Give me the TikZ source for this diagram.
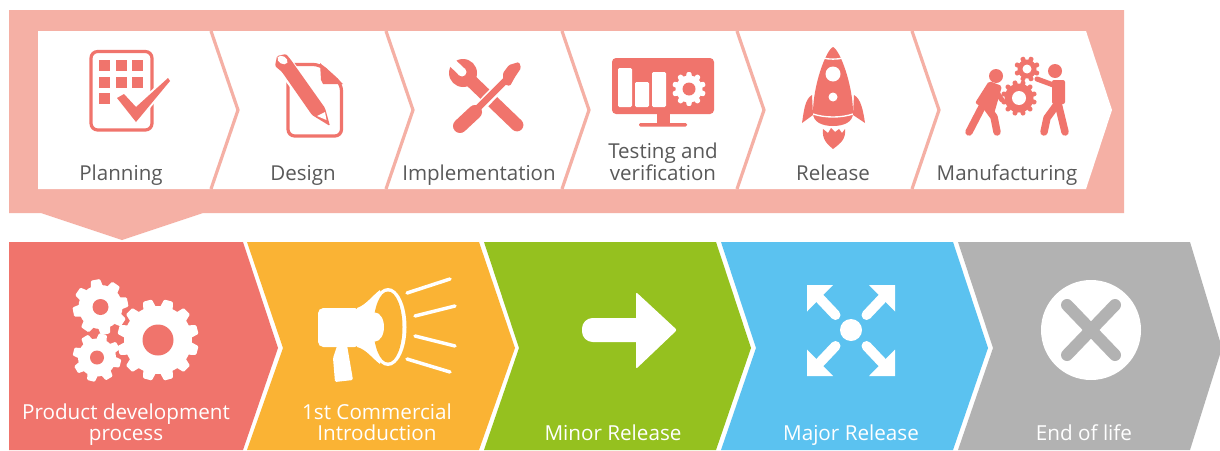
\documentclass[tikz,border=0pt]{standalone}
\usepackage{fontspec}
\setmainfont{Open Sans}
\definecolor{band}{HTML}{F5B0A5}
\definecolor{coral}{HTML}{F0746C}
\definecolor{amber}{HTML}{FAB334}
\definecolor{leaf}{HTML}{95C11F}
\definecolor{sky}{HTML}{5BC2F0}
\definecolor{stone}{HTML}{B2B2B2}
\definecolor{ink}{HTML}{595959}
\def\gearrot{0}
\newcommand\gearicon[8]{% cx cy Rout Rin n hole col holecol
  \fill[#7] (#1,#2) circle[radius=#4];
  \foreach \i in {1,...,#5}{
    \pgfmathsetmacro\ang{\gearrot+(\i-0.5)*360/#5}
    \pgfmathsetmacro\wa{360/#5*0.38}
    \pgfmathsetmacro\wb{360/#5*0.21}
    \fill[#7,rounded corners=0.8pt]
      ({#1+(#4-1)*cos(\ang-\wa)},{#2+(#4-1)*sin(\ang-\wa)}) --
      ({#1+#3*cos(\ang-\wb)},{#2+#3*sin(\ang-\wb)}) --
      ({#1+#3*cos(\ang+\wb)},{#2+#3*sin(\ang+\wb)}) --
      ({#1+(#4-1)*cos(\ang+\wa)},{#2+(#4-1)*sin(\ang+\wa)}) -- cycle;
  }
  \fill[#8] (#1,#2) circle[radius=#6];
}
\tikzset{
  x=0.75pt,y=-0.75pt,
  toplabel/.style={text=ink,font=\fontsize{15.4}{16.2}\selectfont,align=center,anchor=base,inner sep=0pt},
  botlabel/.style={text=white,font=\fontsize{15.5}{15.2}\selectfont,align=center,anchor=base,inner sep=0pt},
  divider/.style={draw=band,line width=2.4pt,line join=miter},
  limb/.style={draw=coral,line width=5.6pt,line cap=round,line join=round},
  ray/.style={draw=white,line width=2.6pt,line cap=round},
}
\begin{document}
\begin{tikzpicture}
\useasboundingbox (0,0) rectangle (1220,450);
\fill[white] (0,0) rectangle (1220,450);
% upper band
\fill[band] (9,10) -- (1124,10) -- (1124,213) -- (203,213) -- (122,240) -- (41,213) -- (9,213) -- cycle;
\fill[white] (38,31) -- (1086,31) -- (1112,110) -- (1086,189) -- (38,189) -- cycle;
\draw[divider] (211,31) -- (238,110) -- (211,189);
\draw[divider] (386,31) -- (413,110) -- (386,189);
\draw[divider] (562,31) -- (589,110) -- (562,189);
\draw[divider] (737,31) -- (764,110) -- (737,189);
\draw[divider] (912,31) -- (939,110) -- (912,189);
% lower chevrons
\fill[coral] (9,242) -- (243,242) -- (278,348) -- (243,450) -- (9,450) -- cycle;
\fill[amber] (247,242) -- (479,242) -- (515,348) -- (479,450) -- (247,450) -- (283,348) -- cycle;
\fill[leaf] (484,242) -- (716,242) -- (751,348) -- (716,450) -- (484,450) -- (519,348) -- cycle;
\fill[sky] (721,242) -- (953,242) -- (988,348) -- (953,450) -- (721,450) -- (756,348) -- cycle;
\fill[stone] (958,242) -- (1190,242) -- (1222,348) -- (1190,450) -- (958,450) -- (993,348) -- cycle;
% planning icon
\draw[draw=coral,line width=2.4pt,rounded corners=5pt] (91,51.5) rectangle (152,130);
\foreach \px/\py in {99/60,116/60,132/60,99/77,116/77,132/77,99/93}
  \fill[coral] (\px,\py) rectangle ++(11,11);
\draw[white,line width=3pt,line join=round] (117,98) -- (124,94) -- (136,107) -- (168,78) -- (170,81) -- (136,122) -- cycle;
\fill[coral] (117,98) -- (124,94) -- (136,107) -- (168,78) -- (170,81) -- (136,122) -- cycle;
% design icon
\draw[draw=coral,line width=2.4pt,rounded corners=5pt,fill=white] (288,64.5) -- (320,64.5) -- (341.5,84) -- (341.5,136) -- (288,136) -- cycle;
\fill[coral] (320,63) -- (343,84) -- (323,84) -- (321,80) -- cycle;
\draw[white,line width=2.4pt,line join=round] (276,66) -- (313,115) -- (330,125) -- (325,108) -- (288,57) -- cycle;
\fill[coral,rounded corners=1pt] (275,66) -- (282,72) -- (312,115) -- (330,126) -- (325,108) -- (291,60) -- (286,54) -- (277,56) -- cycle;
\fill[white] (282.5,60) ellipse[x radius=5.5,y radius=3.8,rotate=-30];
\fill[white] (317,116) -- (325,112) -- (326.5,120) -- cycle;
% tools icon
\draw[coral,line width=9.6pt,line cap=round] (466,76) -- (517,125);
\fill[coral] (463,73) circle[radius=14];
\fill[white] (454,58.5) -- (465,69) -- (459,75) -- (448,64.5) -- cycle;
\fill[white] (462,72) circle[radius=4.5];
\draw[draw=white,line width=8pt] (480,107) -- (508,78);
\draw[draw=coral,line width=5pt] (476,110) -- (508,78);
\draw[coral,line width=10.5pt,line cap=round] (460,126) -- (475,112);
\fill[coral,rounded corners=1pt] (503,84) -- (503,73) -- (509,65) -- (519,62) -- (521,68) -- (515,77) -- (510,86) -- cycle;
% monitor icon
\fill[coral,rounded corners=3pt] (612,58) rectangle (714,114);
\fill[coral] (657,113) rectangle (670,124);
\fill[coral,rounded corners=1pt] (639,123) rectangle (687,126.5);
\foreach \bx/\by in {618/68,635/82,652/72}
  \fill[white,rounded corners=1pt] (\bx,\by) rectangle (\bx+14,107);
\gearicon{689}{89}{17}{13.5}{10}{6.5}{white}{coral}
% rocket icon
\fill[coral] (833,47) .. controls (826,50) and (813,85) .. (813,113) .. controls (813,122) and (822,126) .. (833,126) .. controls (844,126) and (853,122) .. (853,113) .. controls (853,85) and (840,50) .. (833,47) -- cycle;
\draw[white,line width=1pt] (823,58) .. controls (829,59.5) and (837,59.5) .. (843,58);
\draw[white,line width=1pt] (813,114) .. controls (825,118) and (841,118) .. (853,114);
\fill[white] (833,74) circle[radius=7.5];
\fill[white] (833,97) circle[radius=4.5];
\fill[coral] (812,95) .. controls (805,99) and (804,110) .. (802,123) -- (813,115) -- cycle;
\fill[coral] (854,95) .. controls (861,99) and (863,110) .. (865,123) -- (853,115) -- cycle;
\fill[coral] (823,129) -- (828,133) -- (831,128) -- (835,132) -- (839,129) -- (842,133) -- (845,129) .. controls (846,139) and (841,143) .. (833,149) .. controls (826,143) and (822,139) .. (823,129) -- cycle;
% manufacturing icon
\fill[coral] (996,76) circle[radius=7];
\fill[coral] (1055,71) circle[radius=7];
\fill[coral,rounded corners=1.5pt] (989,81) -- (1002,86) -- (994,114) -- (975,103) -- cycle;
\draw[limb] (983,105) -- (969,132);
\draw[limb] (986,106) -- (994,117) -- (997,132);
\draw[limb,line width=3.8pt] (994,88) -- (1002,100);
\fill[coral,rounded corners=1.5pt] (1052,80) -- (1065,80) -- (1065,104) -- (1052,104) -- cycle;
\draw[limb] (1058,103) -- (1047,118) -- (1044,132);
\draw[limb] (1058,103) -- (1065,132);
\draw[limb,line width=3.8pt] (1056,86) -- (1037,79);
\gearicon{1019}{98}{18}{14.5}{12}{7}{coral}{white}
\gearicon{1027}{69}{13}{9.5}{8}{4.5}{coral}{white}
% gears
\def\gearrot{12}
\gearicon{100.5}{307}{28}{22}{8}{8}{white}{coral}
\def\gearrot{-8}
\gearicon{97}{357.5}{24.5}{19}{8}{7}{white}{coral}
\def\gearrot{0}
\fill[coral] (158,340) circle[radius=38];
\gearicon{158}{340}{41}{34}{12}{15.5}{white}{coral}
% megaphone
\fill[white,rounded corners=4pt] (318,308) -- (360,308) -- (360,347) -- (318,347) -- cycle;
\fill[white] (357,308) .. controls (366,305) and (372,296) .. (380,290) -- (380,364) .. controls (372,358) and (366,349) .. (357,347) -- cycle;
\fill[white] (388,327) ellipse[x radius=18.5,y radius=39];
\fill[amber] (388,327) ellipse[x radius=14.5,y radius=35.5];
\fill[white] (375,327) ellipse[x radius=9,y radius=14.5];
\fill[white,rounded corners=1pt] (333,358) -- (337,346) -- (347,345) -- (353,380) -- (335,382) -- cycle;
\draw[ray] (407,293) -- (450,279);
\draw[ray] (415,316) -- (455,306);
\draw[ray] (415,336) -- (455,346);
\draw[ray] (407,359) -- (450,372);
% arrow
\fill[white,rounded corners=8pt] (582,318) -- (650,318) -- (650,342) -- (582,342) -- cycle;
\fill[white,rounded corners=1.5pt] (636,292) -- (677,330) -- (636,369) -- cycle;
% expand icon
\fill[white] (851,330) circle[radius=11];
\foreach \sx/\sy in {1/1,-1/1,1/-1,-1/-1}{
  \fill[white] (851-\sx*44,330.5-\sy*45.5) -- (851-\sx*18,330.5-\sy*45.5) -- (851-\sx*44,330.5-\sy*19) -- cycle;
  \draw[white,line width=7.5pt,line cap=round] (851-\sx*33,330.5-\sy*34) -- (851-\sx*15.5,330.5-\sy*15.5);
}
% end of life
\fill[white] (1091,330) circle[radius=50];
\draw[stone,line width=9pt,line cap=round] (1067,305) -- (1115,355);
\draw[stone,line width=9pt,line cap=round] (1115,305) -- (1067,355);
% labels
\node[toplabel] (planning) at (121,180) {Planning};
\node[toplabel] (design) at (303,180) {Design};
\node[toplabel] (impl) at (479,180) {Implementation};
\node[toplabel] (testing) at (663,180) {Testing and\\verification};
\node[toplabel] (release) at (833,180) {Release};
\node[toplabel] (manuf) at (1007,180) {Manufacturing};
\node[botlabel] (pdp) at (126,440) {Product development\\process};
\node[botlabel] (fci) at (377,440) {1st Commercial\\Introduction};
\node[botlabel] (minor) at (613,440) {Minor Release};
\node[botlabel] (major) at (851,440) {Major Release};
\node[botlabel] (eol) at (1084,440) {End of life};
\end{tikzpicture}
\end{document}
